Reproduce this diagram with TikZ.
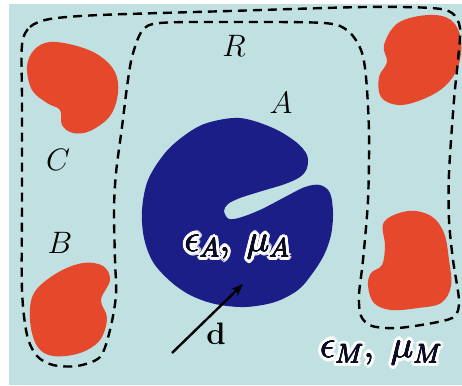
\RequirePackage{fix-cm}
\documentclass[tikz,border=0pt]{standalone}
\usetikzlibrary{arrows.meta}
\definecolor{bg}{RGB}{192,224,226}
\definecolor{blobred}{RGB}{230,72,43}
\definecolor{blobblue}{RGB}{27,30,135}
\definecolor{inkdark}{RGB}{10,12,35}
\tikzset{
  boundary/.style={draw=black, line width=2.4pt, dash pattern=on 9pt off 6pt, line cap=butt},
  redblob/.style={fill=blobred, draw=none},
  blueblob/.style={fill=blobblue, draw=none},
  lab/.style={inner sep=0pt, font=\fontsize{31}{36}\selectfont},
  biglab/.style={inner sep=0pt, font=\fontsize{38}{44}\selectfont},
  arr/.style={line width=2.4pt, -{Stealth[length=12pt,width=9pt]}}
}
\newcommand{\halolabel}[3]{%
  \foreach \ang in {0,20,...,340} {
    \node[biglab, text=white] at ([shift={(\ang:3.6pt)}]#1) {#3};
    \node[biglab, text=white] at ([shift={(\ang:1.8pt)}]#1) {#3};
  }
  \foreach \ang in {0,45,...,315} {
    \node[biglab, text=inkdark] at ([shift={(\ang:0.45pt)}]#1) {#3};
  }
  \node[biglab, text=inkdark] (#2) at (#1) {#3};
}
\begin{document}
\begin{tikzpicture}[x=1pt,y=-1pt]
\useasboundingbox (0,0) rectangle (462,385);
\fill[white] (0,0) rectangle (462,385);
\fill[bg] (9,4) rectangle (462,385);

% red blobs
\fill[redblob] plot[smooth cycle, tension=0.6] coordinates {
  (27,67) (34,50) (50,42) (77,46) (100,56) (115,72) (118,93) (110,116) (90,131) (73,133) (62,125) (60,110) (47,103) (32,90)};
\fill[redblob] plot[smooth cycle, tension=0.6] coordinates {
  (384,45) (398,23) (428,15) (451,20) (461,40) (458,67) (444,87) (421,100) (398,105) (381,97) (379,77) (387,62)};
\fill[redblob] plot[smooth cycle, tension=0.6] coordinates {
  (30,320) (34,293) (57,273) (83,263) (103,266) (110,280) (101,300) (107,318) (100,340) (80,353) (53,356) (37,346)};
\fill[redblob] plot[smooth cycle, tension=0.6] coordinates {
  (384,222) (408,211) (431,216) (444,233) (449,260) (451,286) (441,303) (418,308) (391,310) (374,303) (368,286) (371,273) (382,265) (385,246)};

% blue blob A
\fill[blueblob] plot[smooth cycle, tension=0.55] coordinates {
  (142,210) (148,180) (165,153) (185,135) (207,123) (240,118) (273,128) (296,142) (307,155) (307,168) (300,177) (285,184) (262,191) (240,198) (228,204) (224,211) (229,219) (242,217) (262,209) (285,197) (305,187) (320,185) (330,193) (333,213) (331,235) (324,255) (312,274) (298,290) (275,302) (245,307) (215,304) (190,295) (170,281) (153,262) (144,238)};

% dashed boundary
\draw[boundary] plot[smooth cycle, tension=0.5] coordinates {
  (22,45) (30,27) (50,19) (100,15) (230,11) (364,7) (431,8) (452,13) (460,28) (458,60) (454,100) (449,173) (449,220) (453,260) (459,300) (455,316) (438,322) (398,328) (372,326) (361,316) (359,295) (363,260) (368,200) (369,133) (366,77) (361,50) (348,31) (324,23) (230,22) (160,23) (142,31) (132,57) (127,87) (122,127) (116,173) (114,210) (115,260) (116,295) (110,330) (100,357) (77,366) (53,365) (37,356) (27,335) (22,290) (22,200) (22,100)};

% labels
\node[lab] (R) at (234,46) {$R$};
\node[lab] (A) at (281,103) {$A$};
\node[lab] (C) at (58,160) {$C$};
\node[lab] (B) at (60,243) {$B$};

\coordinate (dtail) at (172,353);
\coordinate (dhead) at (243,284);
\draw[arr] (dtail) -- (dhead);
\node[lab] (d) at (216,334) {$\mathbf{d}$};

\halolabel{237,247}{epsA}{$\epsilon_A,\;\mu_A$}
\halolabel{381,353}{epsM}{$\epsilon_M,\;\mu_M$}
\end{tikzpicture}
\end{document}
